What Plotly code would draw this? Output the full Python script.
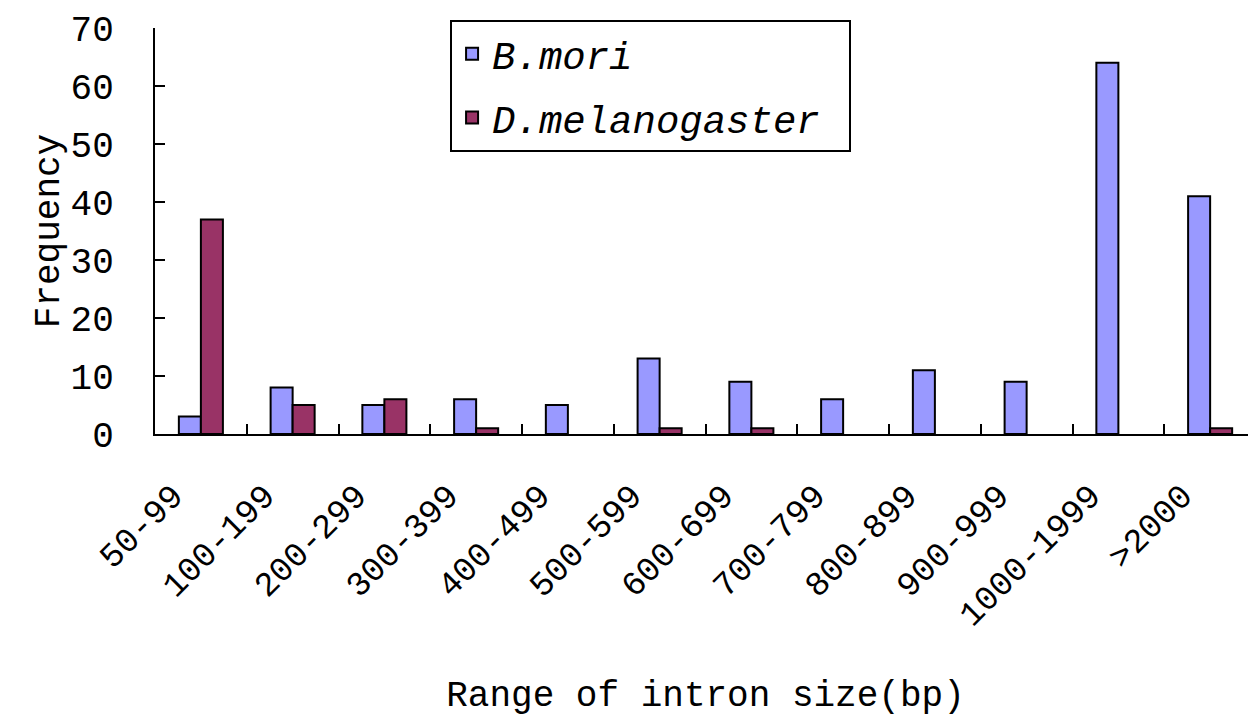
import plotly.graph_objects as go

categories = ["50-99", "100-199", "200-299", "300-399", "400-499", "500-599",
              "600-699", "700-799", "800-899", "900-999", "1000-1999", ">2000"]
b_mori = [3, 8, 5, 6, 5, 13, 9, 6, 11, 9, 64, 41]
d_mel = [37, 5, 6, 1, 0, 1, 1, 0, 0, 0, 0, 1]
y_ticks = [0, 10, 20, 30, 40, 50, 60, 70]

FONT = "Liberation Mono"


def outline(vals):
    return [2 if v > 0 else 0 for v in vals]


fig = go.Figure()
fig.add_trace(go.Bar(x=categories, y=b_mori, name="<i>B.mori</i>",
                     legendgroup="a",
                     marker=dict(color="#9999FF",
                                 line=dict(color="black", width=outline(b_mori)))))
fig.add_trace(go.Bar(x=categories, y=d_mel, name="<i>D.melanogaster</i> ",
                     legendgroup="b",
                     marker=dict(color="#993366",
                                 line=dict(color="black", width=outline(d_mel)))))

# page body adds an 8px offset, so the figure is sized to fill the rest
fig.update_layout(
    width=1248, height=709,
    margin=dict(l=147, r=0, t=20, b=283),
    paper_bgcolor="white", plot_bgcolor="white",
    font=dict(family=FONT, size=36, color="black"),
    barmode="group", bargap=0.52, bargroupgap=0.0,
    showlegend=True,
    legend=dict(x=0.268, y=1.02, xanchor="left", yanchor="top",
                bordercolor="black", borderwidth=2, bgcolor="white",
                font=dict(family=FONT, size=39), tracegroupgap=10,
                traceorder="grouped"),
    xaxis=dict(showline=True, linecolor="black", linewidth=2, automargin=False,
               ticks="inside", tickson="boundaries", ticklen=10, tickwidth=2,
               tickcolor="black", tickangle=-45, showgrid=False,
               ticklabelstandoff=26, ticklabelshift=-28,
               tickfont=dict(family=FONT, size=34),
               title=dict(text="Range of intron size(bp)", standoff=49,
                          font=dict(family=FONT, size=36))),
    yaxis=dict(range=[0, 70], tickvals=y_ticks, showline=True, linecolor="black",
               linewidth=2, ticks="inside", ticklen=10, tickwidth=2, automargin=False,
               tickcolor="black", showgrid=False, zeroline=False,
               ticklabelstandoff=32,
               tickfont=dict(family=FONT, size=36),
               title=dict(text="Frequency", standoff=0,
                          font=dict(family=FONT, size=36))),
)

fig.write_html("out.html")
